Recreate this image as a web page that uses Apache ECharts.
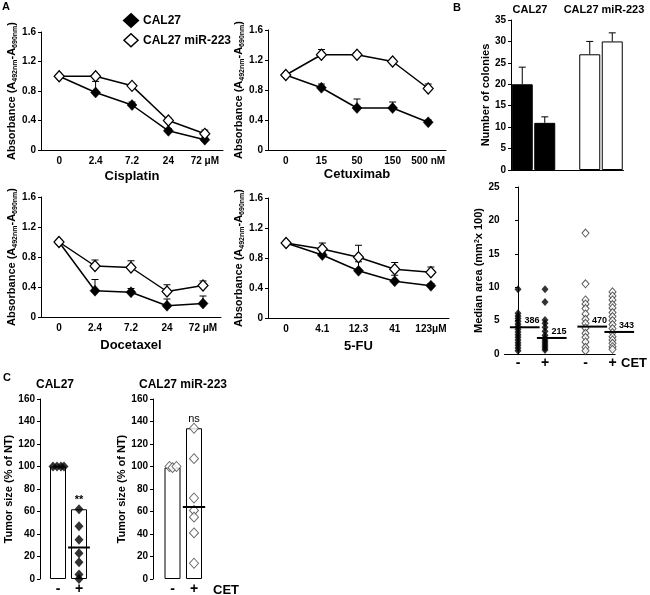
<!DOCTYPE html>
<html><head><meta charset="utf-8">
<script src="https://cdn.jsdelivr.net/npm/echarts@6/dist/echarts.min.js"></script>
<style>html,body{margin:0;padding:0;background:#fff}#c{width:650px;height:595px}</style>
</head><body><div id="c"></div>
<script>
const FF = '"Liberation Sans", Arial, Helvetica, sans-serif';

// ---------- Panel A data ----------
const cisplatinDoses = ['0', '2.4', '7.2', '24', '72 μM'];
const cisplatinCAL27 = [1.00, 0.78, 0.61, 0.26, 0.14];
const cisplatinCAL27Err = [null, 0.93, 0.65, 0.29, 0.16];
const cisplatinMiR = [1.00, 1.00, 0.87, 0.40, 0.22];
const cisplatinMiRErr = [null, 1.02, 0.89, 0.43, 0.27];

const cetuximabDoses = ['0', '15', '50', '150', '500 nM'];
const cetuximabCAL27 = [1.00, 0.83, 0.56, 0.56, 0.37];
const cetuximabCAL27Err = [null, 0.88, 0.68, 0.64, 0.40];
const cetuximabMiR = [1.00, 1.27, 1.27, 1.18, 0.82];
const cetuximabMiRErr = [null, 1.34, 1.30, 1.20, 0.88];

const docetaxelDoses = ['0', '2.4', '7.2', '24', '72 μM'];
const docetaxelCAL27 = [1.00, 0.35, 0.33, 0.15, 0.18];
const docetaxelCAL27Err = [null, 0.50, 0.38, 0.24, 0.28];
const docetaxelMiR = [1.00, 0.68, 0.66, 0.34, 0.42];
const docetaxelMiRErr = [null, 0.76, 0.75, 0.43, 0.48];

const fuDoses = ['0', '4.1', '12.3', '41', '123μM'];
const fuCAL27 = [1.00, 0.84, 0.63, 0.49, 0.43];
const fuCAL27Err = [null, 0.87, 0.75, 0.57, 0.46];
const fuMiR = [1.00, 0.92, 0.81, 0.65, 0.61];
const fuMiRErr = [null, 1.00, 0.97, 0.74, 0.68];

// ---------- Panel B data ----------
const colonyGroups = ['CAL27 -', 'CAL27 +', 'CAL27 miR-223 -', 'CAL27 miR-223 +'];
const colonies = [20, 11, 27, 30];
const coloniesErr = [24, 12.4, 30, 32];

const areaCAL27Minus = [9.7, 6.1, 5.7, 5.3, 4.9, 4.5, 4.1, 3.7, 3.3, 2.9, 2.5, 2.1, 1.7, 1.3, 0.9, 0.5];
const areaCAL27Plus = [9.7, 7.8, 5.1, 4.6, 4.0, 3.4, 2.8, 2.4, 2.1, 1.8, 1.5, 1.2, 0.9, 0.6];
const areaMiRMinus = [18.1, 10.5, 8.1, 7.5, 6.8, 6.0, 5.2, 4.6, 3.9, 3.1, 2.5, 1.8, 1.0, 0.5];
const areaMiRPlus = [9.3, 8.7, 8.1, 7.4, 6.9, 6.2, 5.6, 5.0, 4.4, 3.8, 3.2, 2.6, 2.1, 1.6, 1.1, 0.7];
const areaMedians = [4.0, 2.4, 4.1, 3.3];
const areaMedianLabels = ['386', '215', '470', '343'];
const cetLabels = ['-', '+'];

// ---------- Panel C data ----------
const tumorCAL27Bars = [100, 62];
const tumorCAL27NT = [100, 100, 100, 100];
const tumorCAL27CET = [62, 47, 35, 23, 15, 4, 0];
const tumorCAL27Median = 28;
const tumorCAL27Sig = '**';
const tumorMiRBars = [99, 134];
const tumorMiRNT = [100, 99, 100];
const tumorMiRCET = [134, 107, 72, 61, 55, 41, 14];
const tumorMiRMedian = 64;
const tumorMiRSig = 'ns';

// ---------- layout helpers ----------
const chart = echarts.init(document.getElementById('c'), null, {renderer: 'canvas'});

const grids = [
  {left: 41, top: 32, width: 182, height: 118},
  {left: 268, top: 30, width: 178, height: 120},
  {left: 41, top: 197, width: 180, height: 120},
  {left: 268, top: 198, width: 181, height: 120},
  {left: 511, top: 20, width: 112.5, height: 150},
  {left: 504.5, top: 187, width: 110.7, height: 167},
  {left: 47.5, top: 399, width: 42, height: 180},
  {left: 161.75, top: 399, width: 43, height: 180}
].map(g => Object.assign({outerBoundsMode: 'none', containLabel: false}, g));

const nameStyle = {
  color: '#000', fontFamily: FF, fontWeight: 'bold', fontSize: 11,
  rich: {
    s: {fontSize: 7, fontWeight: 'bold', fontFamily: FF, color: '#000', verticalAlign: 'bottom', padding: [5, 0, 0, 0]},
    p: {fontSize: 7, fontWeight: 'bold', fontFamily: FF, color: '#000', verticalAlign: 'top', padding: [0, 0, 4, 0]}
  }
};

function yAx(gi, min, max, interval, name, nameGap, fmt, offset) {
  return {
    type: 'value', gridIndex: gi, min, max, interval, offset: offset || 0,
    axisLine: {show: true, lineStyle: {color: '#000', width: 1}},
    axisTick: {show: true, length: 3, lineStyle: {color: '#000', width: 1}},
    splitLine: {show: false},
    axisLabel: {color: '#000', fontFamily: FF, fontWeight: 'bold', fontSize: 10, margin: 5, formatter: fmt},
    name, nameLocation: 'middle', nameRotate: 90, nameGap,
    nameTextStyle: nameStyle
  };
}
const absFmt = v => v === 0 ? '0' : v.toFixed(1);

function doseX(gi, cats, name, gap) {
  return {
    type: 'category', gridIndex: gi, data: cats, boundaryGap: true,
    axisLine: {show: true, lineStyle: {color: '#000', width: 1}},
    axisTick: {show: false},
    axisLabel: {color: '#000', fontFamily: FF, fontWeight: 'bold', fontSize: 10, margin: 6, interval: 0},
    name, nameLocation: 'middle', nameGap: gap,
    nameTextStyle: {color: '#000', fontFamily: FF, fontWeight: 'bold', fontSize: 13}
  };
}

function errSeries(gi, xs, vals, tops) {
  const data = [];
  vals.forEach((v, i) => { if (tops[i] != null) data.push([xs[i], v, tops[i]]); });
  return {
    type: 'custom', xAxisIndex: gi, yAxisIndex: gi, z: 2, silent: true, data,
    encode: {x: 0, y: [1, 2]},
    renderItem: (p, api) => {
      const a = api.coord([api.value(0), api.value(1)]);
      const b = api.coord([api.value(0), api.value(2)]);
      const st = {stroke: '#000', lineWidth: 1};
      return {type: 'group', children: [
        {type: 'line', shape: {x1: a[0], y1: a[1], x2: b[0], y2: b[1]}, style: st},
        {type: 'line', shape: {x1: b[0] - 3.5, y1: b[1], x2: b[0] + 3.5, y2: b[1]}, style: st}
      ]};
    }
  };
}

const idx5 = [0, 1, 2, 3, 4];
function doseSeries(gi, cal, calErr, mir, mirErr) {
  return [
    errSeries(gi, idx5, cal, calErr),
    errSeries(gi, idx5, mir, mirErr),
    {type: 'line', name: 'CAL27', xAxisIndex: gi, yAxisIndex: gi, data: cal, z: 3,
      symbol: 'diamond', symbolSize: [10, 11], showAllSymbol: true,
      lineStyle: {color: '#000', width: 1.5}, itemStyle: {color: '#000', borderColor: '#000', borderWidth: 0.5}},
    {type: 'line', name: 'CAL27 miR-223', xAxisIndex: gi, yAxisIndex: gi, data: mir, z: 4,
      symbol: 'diamond', symbolSize: [10, 11], showAllSymbol: true,
      lineStyle: {color: '#000', width: 1.5}, itemStyle: {color: '#fff', borderColor: '#000', borderWidth: 1.2}}
  ];
}

// ---------- axes ----------
const xAxes = [
  doseX(0, cisplatinDoses, 'Cisplatin', 20),
  doseX(1, cetuximabDoses, 'Cetuximab', 18),
  doseX(2, docetaxelDoses, 'Docetaxel', 22),
  doseX(3, fuDoses, '5-FU', 22),
  {type: 'category', gridIndex: 4, data: [colonyGroups[0], colonyGroups[1], '', colonyGroups[2], colonyGroups[3]],
    axisLine: {show: true, lineStyle: {color: '#000'}}, axisTick: {show: false}, axisLabel: {show: false}},
  {type: 'value', gridIndex: 5, min: -0.5, max: 3.6, interval: 0.5,
    axisLine: {show: true, onZero: false, lineStyle: {color: '#000'}}, axisTick: {show: false}, splitLine: {show: false},
    axisLabel: {color: '#000', fontFamily: FF, fontWeight: 'bold', fontSize: 14, margin: 2, showMaxLabel: false,
      formatter: v => {
        const r = Math.round(v * 10) / 10;
        if (r === 0 || r === 2.5) return cetLabels[0];
        if (r === 1 || r === 3.5) return cetLabels[1];
        return '';
      }}},
  {type: 'category', gridIndex: 6, data: cetLabels,
    axisLine: {show: false}, axisTick: {show: false},
    axisLabel: {color: '#000', fontFamily: FF, fontWeight: 'bold', fontSize: 14, margin: 3, interval: 0}},
  {type: 'category', gridIndex: 7, data: cetLabels,
    axisLine: {show: false}, axisTick: {show: false},
    axisLabel: {color: '#000', fontFamily: FF, fontWeight: 'bold', fontSize: 14, margin: 3, interval: 0}}
];

const absName = 'Absorbance (A{s|492nm}-A{s|690nm})';
const yAxes = [
  yAx(0, 0, 1.6, 0.4, absName, 20, absFmt),
  yAx(1, 0, 1.6, 0.4, absName, 20, absFmt),
  yAx(2, 0, 1.6, 0.4, absName, 20, absFmt),
  yAx(3, 0, 1.6, 0.4, absName, 20, absFmt),
  yAx(4, 0, 35, 5, 'Number of colonies', 20),
  yAx(5, 0, 25, 5, 'Median area (mm{p|2}x 100)', 20),
  yAx(6, 0, 160, 20, 'Tumor size (% of NT)', 24, null, 7.5),
  yAx(7, 0, 160, 20, 'Tumor size (% of NT)', 24, null, 8.75)
];

// ---------- series ----------
const series = [];
series.push(...doseSeries(0, cisplatinCAL27, cisplatinCAL27Err, cisplatinMiR, cisplatinMiRErr));
series.push(...doseSeries(1, cetuximabCAL27, cetuximabCAL27Err, cetuximabMiR, cetuximabMiRErr));
series.push(...doseSeries(2, docetaxelCAL27, docetaxelCAL27Err, docetaxelMiR, docetaxelMiRErr));
series.push(...doseSeries(3, fuCAL27, fuCAL27Err, fuMiR, fuMiRErr));

// B1: colonies bars
const colonySlots = [0, 1, 3, 4];
const barData = ['-', '-', '-', '-', '-'];
colonies.forEach((v, i) => {
  barData[colonySlots[i]] = {value: v, itemStyle: i < 2 ? {color: '#000', borderColor: '#000', borderWidth: 1} : {color: '#fff', borderColor: '#000', borderWidth: 1}};
});
series.push({type: 'bar', xAxisIndex: 4, yAxisIndex: 4, data: barData, barWidth: 21, z: 2});
series.push(Object.assign(errSeries(4, colonySlots, colonies, coloniesErr), {z: 3}));

// B2: median area scatter
const areaX = [0, 1, 2.5, 3.5];
const areaSets = [areaCAL27Minus, areaCAL27Plus, areaMiRMinus, areaMiRPlus];
areaSets.forEach((set, i) => {
  series.push({type: 'scatter', xAxisIndex: 5, yAxisIndex: 5, z: 3,
    data: set.map(v => [areaX[i], v]), symbol: 'diamond', symbolSize: [7, 8],
    itemStyle: i < 2 ? {color: '#000'} : {color: '#fff', borderColor: '#333', borderWidth: 1}});
});
series.push({type: 'custom', xAxisIndex: 5, yAxisIndex: 5, z: 5, silent: true,
  data: areaMedians.map((m, i) => [areaX[i], m, areaMedianLabels[i]]),
  encode: {x: 0, y: 1},
  renderItem: (p, api) => {
    const x = api.value(0), m = api.value(1);
    const a = api.coord([x - 0.3, m]), b = api.coord([x + 0.8, m]), t = api.coord([x + 0.52, m]);
    return {type: 'group', children: [
      {type: 'line', shape: {x1: a[0], y1: a[1], x2: b[0], y2: b[1]}, style: {stroke: '#000', lineWidth: 2}},
      {type: 'text', x: t[0], y: t[1] - 2, style: {text: areaMedianLabels[p.dataIndex], fill: '#000',
        font: 'bold 9px ' + FF, align: 'center', verticalAlign: 'bottom', textAlign: 'center', textVerticalAlign: 'bottom'}}
    ]};
  }});

// C: tumor size
function tumorSeries(gi, bars, nt, cet, median, sig, filled, ntOffsets) {
  const mk = filled ? {color: '#000'} : {color: '#fff', borderColor: '#444', borderWidth: 1};
  return [
    {type: 'bar', xAxisIndex: gi, yAxisIndex: gi, data: bars, barWidth: 16, z: 2,
      itemStyle: {color: '#fff', borderColor: '#000', borderWidth: 1}},
    {type: 'scatter', xAxisIndex: gi, yAxisIndex: gi, z: 3, symbol: 'diamond', symbolSize: [9, 10], itemStyle: mk,
      data: nt.map((v, i) => ({value: [0, v], symbolOffset: [ntOffsets[i], 0]}))},
    {type: 'scatter', xAxisIndex: gi, yAxisIndex: gi, z: 3, symbol: 'diamond', symbolSize: [9, 10], itemStyle: mk,
      data: cet.map(v => [1, v])},
    {type: 'custom', xAxisIndex: gi, yAxisIndex: gi, z: 5, silent: true, data: [[1, median, bars[1]]],
      encode: {x: 0, y: 1},
      renderItem: (p, api) => {
        const c = api.coord([1, api.value(1)]);
        const top = api.coord([1, api.value(2)]);
        const w = api.size([1, 0])[0];
        return {type: 'group', children: [
          {type: 'line', shape: {x1: c[0] - w * 0.52, y1: c[1], x2: c[0] + w * 0.52, y2: c[1]}, style: {stroke: '#000', lineWidth: 2}},
          {type: 'text', x: c[0], y: top[1] - 4, style: {text: sig, fill: '#000', font: (sig === 'ns' ? '' : 'bold ') + '11px ' + FF,
            align: 'center', verticalAlign: 'bottom', textAlign: 'center', textVerticalAlign: 'bottom'}}
        ]};
      }}
  ];
}
series.push(...tumorSeries(6, tumorCAL27Bars, tumorCAL27NT, tumorCAL27CET, tumorCAL27Median, tumorCAL27Sig, true, [-5, -1, 3, 6]));
series.push(...tumorSeries(7, tumorMiRBars, tumorMiRNT, tumorMiRCET, tumorMiRMedian, tumorMiRSig, false, [-3, 0, 4]));

// ---------- texts ----------
function txt(t, x, y, size, weight, align) {
  return {type: 'text', x, y, silent: true, style: {text: t, fill: '#000', font: (weight || 'bold') + ' ' + size + 'px ' + FF,
    align: align || 'center', verticalAlign: 'middle', textAlign: align || 'center', textVerticalAlign: 'middle'}};
}
const graphics = [
  txt('A', 2, 7, 11, 'bold', 'left'),
  txt('B', 453, 8, 11, 'bold', 'left'),
  txt('C', 3, 378, 11, 'bold', 'left'),
  txt('CAL27', 530, 10, 11),
  txt('CAL27 miR-223', 604, 10, 11),
  txt('CAL27', 55, 385, 12),
  txt('CAL27 miR-223', 183, 385, 12),
  txt('CET', 634, 363, 13),
  txt('CET', 226, 590, 13)
];

chart.setOption({
  animation: false,
  backgroundColor: '#fff',
  textStyle: {fontFamily: FF},
  legend: {
    left: 118, top: 8, orient: 'vertical', itemWidth: 14, itemHeight: 13, itemGap: 5,
    textStyle: {color: '#000', fontFamily: FF, fontWeight: 'bold', fontSize: 12},
    data: [
      {name: 'CAL27', icon: 'diamond', itemStyle: {color: '#000'}},
      {name: 'CAL27 miR-223', icon: 'diamond', itemStyle: {color: '#fff', borderColor: '#000', borderWidth: 1.5}}
    ],
    selectedMode: false
  },
  grid: grids,
  xAxis: xAxes,
  yAxis: yAxes,
  series,
  graphic: graphics
});
</script></body></html>
